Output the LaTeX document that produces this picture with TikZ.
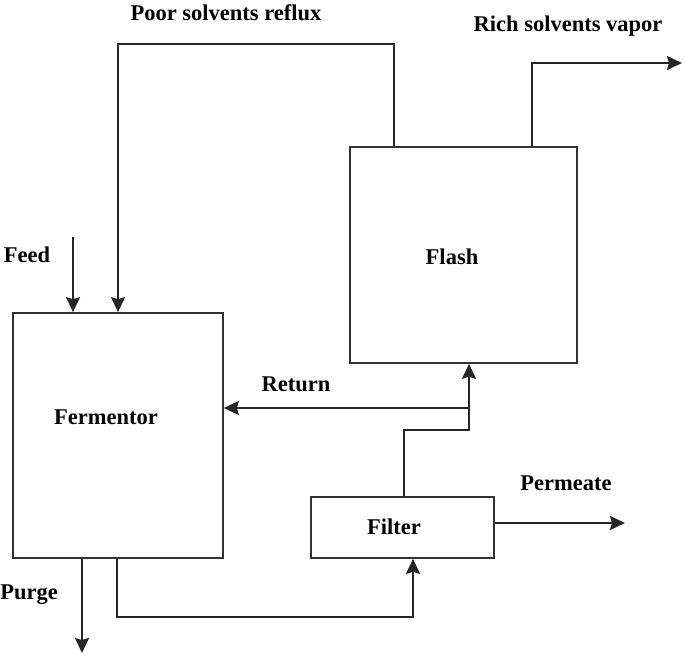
\documentclass[tikz,border=0pt]{standalone}
\usepackage{fontspec}
\setmainfont{Liberation Serif}
\usetikzlibrary{arrows.meta}
\begin{document}
\begin{tikzpicture}[x=1pt,y=-1pt,
  box/.style={draw=black!80, line width=1.7pt, inner sep=0pt},
  flow/.style={draw=black!85, line width=2pt, -{Stealth[length=15pt,width=14pt,inset=2pt]}},
  lbl/.style={inner sep=0pt, font=\fontsize{22.5}{24}\selectfont\bfseries}]
\useasboundingbox (0,0) rectangle (685,655);
% boxes
\node[box, minimum width=210pt, minimum height=245pt] (ferm) at (118,435.5) {};
\node[box, minimum width=227pt, minimum height=216pt] (flash) at (463.5,255) {};
\node[box, minimum width=183pt, minimum height=61pt] (filter) at (402.5,527.5) {};
% labels
\node[lbl] (tferm) at (106,417) {Fermentor};
\node[lbl] (tflash) at (452,257) {Flash};
\node[lbl] (tfilter) at (394,527) {Filter};
\node[lbl] (treflux) at (226,13) {Poor solvents reflux};
\node[lbl] (tvapor) at (568,26) {Rich solvents vapor};
\node[lbl] (tfeed) at (27,255) {Feed};
\node[lbl] (treturn) at (296,384) {Return};
\node[lbl] (tperm) at (566,483) {Permeate};
\node[lbl] (tpurge) at (29,595) {Purge};
% coordinates
\coordinate (rtop1) at (394,44);
\coordinate (rtop2) at (118,44);
\coordinate (vtop) at (532,63);
\coordinate (vend) at (682,63);
\coordinate (feedstart) at (73,237);
\coordinate (j1) at (404,430);
\coordinate (j2) at (469,430);
\coordinate (ret) at (469,408);
\coordinate (permend) at (625,523);
\coordinate (purgeend) at (82,653);
\coordinate (b1) at (117,617);
\coordinate (b2) at (413,617);
% connectors
\draw[flow] (flash.north -| rtop1) -- (rtop1) -- (rtop2) -- (ferm.north -| rtop2);
\draw[flow] (flash.north -| vtop) -- (vtop) -- (vend);
\draw[flow] (feedstart) -- (ferm.north -| feedstart);
\draw[flow] (filter.north -| j1) -- (j1) -- (j2) -- (flash.south -| j2);
\draw[flow] (ret) -- (ferm.east |- ret);
\draw[flow] (filter.east |- permend) -- (permend);
\draw[flow] (ferm.south -| purgeend) -- (purgeend);
\draw[flow] (ferm.south -| b1) -- (b1) -- (b2) -- (filter.south -| b2);
\end{tikzpicture}
\end{document}
